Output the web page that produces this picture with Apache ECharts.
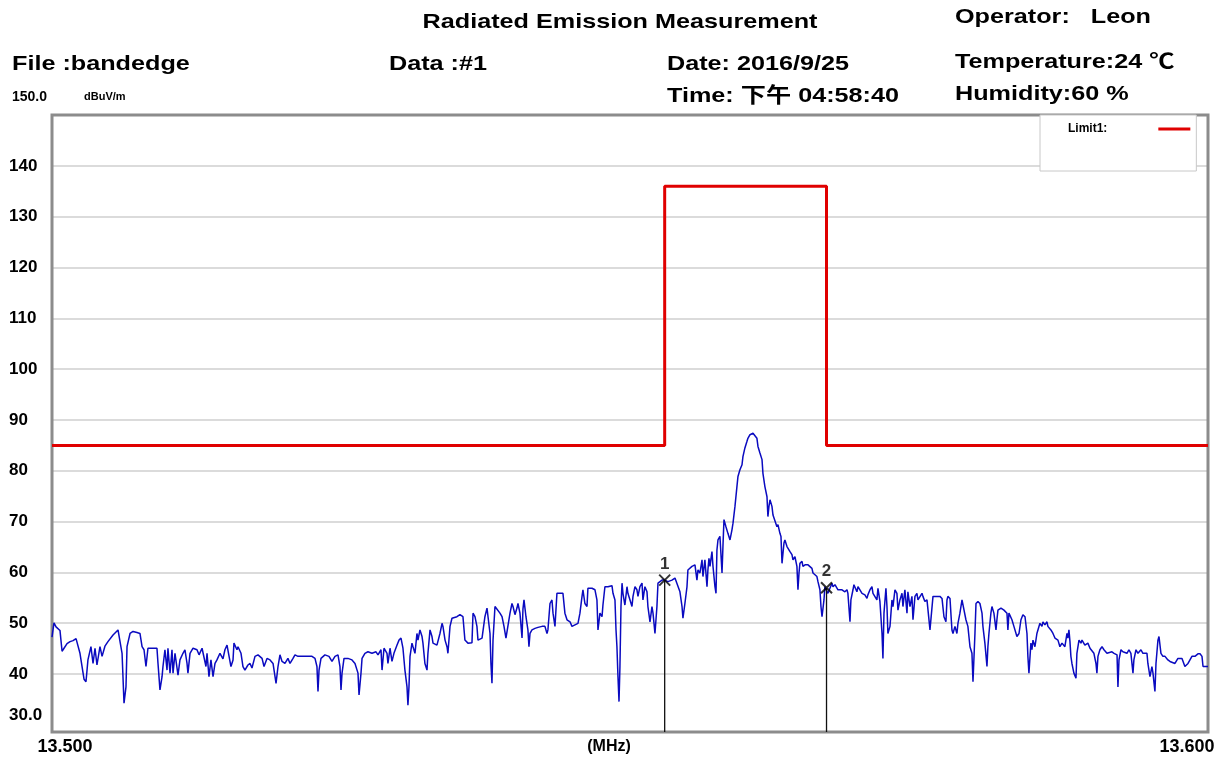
<!DOCTYPE html>
<html lang="en">
<head>
    <meta charset="UTF-8">
    <title>Radiated Emission Measurement</title>
    <script src="https://cdn.jsdelivr.net/npm/echarts@6/dist/echarts.min.js"></script>
    <style>
        html, body { margin: 0; padding: 0; background: #fff; }
        #chart { width: 1226px; height: 758px; }
    </style>
</head>
<body>
<div id="chart"></div>
<script>
// sweep 13.500 - 13.600 MHz
var startMHz = 13.5;
var stopMHz = 13.6;

// trace: [kHz above start, dBuV/m]
var trace = [
    [0.00, 47.3], [0.17, 50.1], [0.35, 49.3], [0.52, 49.0], [0.69, 48.6], [0.87, 44.5], [1.04, 45.1],
    [1.30, 46.0], [1.56, 46.4], [1.82, 46.6], [2.08, 47.0], [2.25, 46.8], [2.42, 44.1], [2.77, 39.0],
    [2.94, 38.5], [3.11, 42.8], [3.37, 45.4], [3.55, 42.1], [3.72, 45.1], [3.89, 41.8], [4.15, 45.4],
    [4.33, 43.5], [4.58, 45.5], [4.84, 46.4], [5.28, 47.7], [5.71, 48.7], [5.88, 49.0], [6.06, 44.1],
    [6.23, 34.3], [6.40, 37.5], [6.49, 45.4], [6.75, 48.0], [7.01, 48.4], [7.35, 48.2], [7.61, 48.0],
    [7.79, 45.4], [7.96, 44.8], [8.13, 41.5], [8.30, 45.1], [8.65, 45.1], [9.08, 45.1], [9.17, 42.1],
    [9.34, 36.9], [9.52, 39.5], [9.60, 41.5], [9.77, 44.8], [9.95, 40.8], [10.03, 45.1], [10.21, 40.2],
    [10.38, 44.8], [10.47, 40.2], [10.64, 44.1], [10.81, 44.1], [10.90, 39.8], [11.07, 42.8], [11.33, 44.1],
    [11.50, 44.8], [11.68, 42.1], [11.76, 40.2], [11.94, 44.1], [12.20, 45.1], [12.54, 44.8], [12.72, 43.8],
    [12.98, 45.1], [13.15, 45.1], [13.32, 41.5], [13.41, 44.1], [13.58, 39.5], [13.75, 42.8], [13.93, 39.5],
    [14.10, 42.1], [14.27, 42.8], [14.53, 44.1], [14.79, 43.0], [14.96, 44.8], [15.14, 45.7], [15.31, 45.4],
    [15.48, 41.5], [15.66, 42.8], [15.74, 46.1], [16.00, 44.8], [16.09, 45.4], [16.35, 44.1], [16.52, 41.5],
    [16.69, 40.8], [16.95, 41.8], [17.13, 42.1], [17.30, 41.2], [17.56, 43.5], [17.82, 43.8], [18.17, 43.1],
    [18.34, 41.5], [18.60, 43.1], [18.86, 42.8], [19.12, 42.1], [19.38, 38.2], [19.55, 41.5], [19.72, 43.8],
    [19.90, 42.5], [20.15, 42.1], [20.41, 43.1], [20.59, 42.1], [20.85, 43.1], [21.02, 43.8], [21.28, 43.5],
    [21.63, 43.5], [21.88, 43.5], [22.49, 43.5], [22.75, 43.1], [22.92, 41.5], [23.01, 36.6], [23.10, 40.8],
    [23.27, 43.1], [23.61, 43.8], [23.96, 43.5], [24.22, 42.5], [24.48, 43.5], [24.74, 43.8], [24.91, 41.5],
    [25.00, 36.9], [25.09, 40.2], [25.26, 43.1], [25.60, 43.1], [25.95, 42.8], [26.21, 42.1], [26.47, 40.2],
    [26.56, 35.9], [26.73, 40.2], [26.82, 43.1], [27.07, 44.1], [27.33, 44.4], [27.68, 44.1], [28.03, 44.4],
    [28.20, 43.8], [28.46, 44.8], [28.55, 40.8], [28.72, 45.1], [28.98, 44.1], [29.06, 42.1], [29.24, 45.1],
    [29.41, 42.5], [29.58, 44.1], [29.84, 45.7], [30.02, 46.7], [30.19, 47.1], [30.36, 45.1], [30.53, 40.8],
    [30.71, 37.5], [30.79, 33.9], [30.88, 37.5], [30.97, 43.5], [31.14, 46.1], [31.23, 45.4], [31.40, 44.1],
    [31.57, 48.0], [31.66, 46.7], [31.83, 48.7], [32.01, 47.4], [32.09, 46.1], [32.26, 42.1], [32.44, 40.8],
    [32.52, 44.1], [32.70, 48.7], [32.87, 47.4], [32.96, 46.1], [33.30, 45.7], [33.56, 48.0], [33.74, 50.0],
    [33.82, 49.4], [34.00, 46.7], [34.17, 45.4], [34.25, 44.1], [34.43, 49.4], [34.60, 51.0], [34.77, 50.7],
    [35.03, 51.3], [35.29, 51.7], [35.55, 51.3], [35.72, 46.7], [35.98, 46.1], [36.33, 46.2], [36.42, 52.0],
    [36.59, 51.3], [36.76, 49.4], [36.85, 46.7], [37.02, 46.9], [37.20, 47.1], [37.45, 51.3], [37.63, 53.0],
    [37.89, 48.0], [37.97, 42.1], [38.06, 38.2], [38.15, 46.7], [38.32, 53.3], [38.49, 53.6], [38.75, 52.0],
    [38.93, 51.3], [39.10, 49.4], [39.27, 47.1], [39.44, 47.1], [39.62, 52.0], [39.79, 53.9], [39.88, 53.3],
    [40.05, 51.7], [40.22, 53.0], [40.31, 53.9], [40.48, 52.0], [40.66, 47.1], [40.74, 52.8], [40.83, 54.6],
    [41.00, 51.3], [41.17, 48.7], [41.26, 45.4], [41.35, 48.0], [41.52, 48.7], [41.78, 49.0], [42.04, 49.2],
    [42.39, 49.4], [42.64, 49.4], [42.82, 48.0], [42.90, 48.7], [43.08, 53.9], [43.25, 54.6], [43.34, 52.0],
    [43.51, 49.4], [43.68, 55.9], [43.94, 55.9], [44.20, 55.9], [44.37, 52.0], [44.55, 50.7], [44.81, 50.3],
    [44.98, 49.4], [45.24, 49.7], [45.50, 50.0], [45.67, 52.0], [45.85, 55.3], [45.93, 56.6], [46.10, 53.9],
    [46.28, 53.3], [46.36, 56.9], [46.71, 56.9], [46.97, 56.6], [47.14, 54.6], [47.23, 48.7], [47.40, 52.0],
    [47.58, 51.3], [47.66, 53.6], [47.83, 57.2], [48.09, 57.2], [48.44, 57.4], [48.53, 55.9], [48.70, 54.6],
    [48.79, 48.7], [48.87, 45.4], [48.96, 39.5], [49.05, 34.6], [49.13, 41.5], [49.22, 53.3], [49.31, 57.9],
    [49.39, 55.9], [49.56, 53.6], [49.74, 57.2], [49.82, 55.9], [50.00, 54.6], [50.17, 53.3], [50.26, 55.3],
    [50.43, 57.2], [50.60, 56.6], [50.69, 55.3], [50.86, 57.2], [51.04, 57.9], [51.12, 54.6], [51.29, 57.2],
    [51.47, 56.2], [51.55, 53.3], [51.73, 50.3], [51.90, 53.3], [51.99, 52.0], [52.16, 48.0], [52.33, 53.3],
    [52.42, 57.9], [52.59, 58.2], [52.77, 58.5], [53.00, 58.5], [53.28, 58.2], [53.63, 58.5], [53.89, 58.9],
    [54.32, 56.2], [54.50, 53.3], [54.58, 51.0], [54.75, 53.9], [54.93, 57.2], [55.01, 60.5], [55.36, 61.2],
    [55.62, 61.5], [55.79, 58.5], [55.88, 60.5], [56.05, 59.9], [56.23, 62.5], [56.31, 59.2], [56.48, 62.5],
    [56.66, 57.2], [56.74, 60.5], [56.83, 62.8], [56.92, 61.2], [57.09, 64.1], [57.18, 61.2], [57.35, 57.2],
    [57.44, 55.9], [57.52, 64.4], [57.61, 66.4], [57.78, 67.1], [57.96, 59.9], [58.04, 65.1], [58.13, 70.4],
    [58.30, 69.0], [58.47, 67.7], [58.65, 66.4], [58.82, 68.4], [58.91, 69.7], [59.08, 73.0], [59.25, 76.9],
    [59.34, 78.9], [59.51, 80.2], [59.69, 81.2], [59.77, 82.8], [59.94, 84.5], [60.12, 85.8], [60.20, 86.4],
    [60.38, 87.1], [60.64, 87.4], [60.81, 87.1], [60.98, 86.4], [61.07, 84.8], [61.24, 83.5], [61.42, 82.2],
    [61.50, 79.5], [61.67, 76.9], [61.85, 74.9], [61.93, 71.0], [62.02, 73.0], [62.11, 74.3], [62.28, 73.0],
    [62.37, 71.3], [62.54, 71.3], [62.71, 69.0], [62.80, 69.4], [62.97, 67.7], [63.06, 67.1], [63.15, 61.8],
    [63.32, 65.8], [63.40, 66.4], [63.58, 65.1], [63.66, 65.1], [63.84, 64.1], [64.01, 63.5], [64.10, 62.5],
    [64.27, 63.1], [64.44, 61.2], [64.53, 56.6], [64.62, 59.9], [64.70, 61.8], [64.88, 62.2], [64.96, 61.2],
    [65.14, 61.5], [65.40, 61.5], [65.57, 61.2], [65.74, 60.8], [65.83, 59.9], [66.00, 60.2], [66.17, 59.2],
    [66.26, 58.2], [66.43, 56.6], [66.52, 53.3], [66.61, 51.3], [66.78, 54.6], [66.86, 57.2], [67.00, 57.0],
    [67.12, 55.9], [67.47, 57.9], [67.56, 57.2], [67.73, 57.6], [67.99, 56.6], [68.34, 56.6], [68.59, 56.2],
    [68.77, 56.6], [68.85, 55.9], [69.03, 50.3], [69.11, 54.6], [69.29, 56.6], [69.37, 57.6], [69.63, 56.2],
    [69.72, 57.2], [69.89, 56.9], [70.07, 55.9], [70.15, 56.2], [70.32, 55.6], [70.50, 54.9], [70.58, 55.6],
    [70.76, 56.6], [70.93, 57.2], [71.02, 55.9], [71.19, 56.2], [71.36, 54.6], [71.45, 56.9], [71.62, 54.3],
    [71.80, 48.0], [71.88, 43.1], [71.97, 52.0], [72.14, 56.9], [72.23, 53.3], [72.31, 48.0], [72.49, 49.4],
    [72.66, 54.6], [72.75, 53.3], [72.92, 56.6], [73.09, 55.9], [73.18, 52.6], [73.35, 54.6], [73.53, 55.9],
    [73.61, 53.3], [73.78, 56.6], [73.96, 52.0], [74.04, 56.2], [74.22, 53.3], [74.39, 55.3], [74.48, 50.7],
    [74.65, 55.3], [74.82, 55.9], [74.91, 54.6], [75.26, 55.9], [75.34, 55.3], [75.51, 54.3], [75.69, 54.6],
    [75.86, 54.6], [75.95, 48.7], [76.12, 48.7], [76.21, 55.3], [76.55, 55.3], [76.81, 55.3], [76.99, 54.9],
    [77.07, 54.6], [77.16, 51.3], [77.33, 50.3], [77.42, 54.6], [77.50, 55.3], [77.68, 54.9], [77.85, 48.7],
    [77.94, 48.0], [78.11, 49.4], [78.28, 48.0], [78.37, 50.0], [78.54, 52.0], [78.72, 54.6], [78.89, 54.6],
    [79.06, 50.7], [79.23, 49.4], [79.41, 45.4], [79.58, 44.1], [79.67, 38.5], [79.84, 48.0], [79.93, 53.9],
    [80.10, 54.3], [80.27, 53.9], [80.45, 52.0], [80.53, 49.4], [80.70, 46.1], [80.88, 41.5], [80.96, 45.4],
    [81.05, 48.0], [81.22, 52.0], [81.31, 53.3], [81.48, 52.0], [81.66, 48.7], [81.74, 50.7], [81.83, 52.6],
    [82.09, 53.0], [82.35, 52.6], [82.61, 52.0], [82.69, 48.7], [82.78, 52.0], [82.95, 52.0], [83.04, 50.7],
    [83.21, 49.4], [83.47, 47.4], [83.65, 48.0], [83.82, 50.7], [83.99, 51.7], [84.17, 51.3], [84.34, 48.0],
    [84.42, 43.5], [84.51, 40.2], [84.68, 46.1], [84.77, 44.8], [84.86, 46.7], [85.03, 45.4], [85.20, 48.0],
    [85.46, 50.0], [85.64, 49.4], [85.72, 50.3], [85.89, 49.7], [86.07, 50.3], [86.15, 49.4], [86.41, 48.7],
    [86.59, 48.0], [86.76, 47.1], [87.02, 46.7], [87.19, 45.4], [87.37, 46.1], [87.62, 45.4], [87.80, 48.0],
    [87.88, 47.1], [87.97, 48.7], [88.06, 46.4], [88.14, 43.5], [88.23, 42.1], [88.40, 40.2], [88.58, 39.2],
    [88.66, 44.1], [88.84, 46.7], [89.01, 46.1], [89.10, 46.7], [89.35, 45.7], [89.61, 46.1], [89.79, 45.1],
    [89.96, 45.1], [90.13, 44.1], [90.31, 42.1], [90.39, 40.2], [90.48, 43.5], [90.65, 44.8], [90.83, 45.4],
    [91.00, 44.8], [91.26, 44.1], [91.43, 44.1], [91.69, 44.4], [91.87, 44.1], [92.13, 43.8], [92.21, 37.5],
    [92.30, 42.8], [92.47, 44.8], [92.64, 44.4], [92.99, 44.1], [93.16, 44.8], [93.33, 44.1], [93.51, 40.2],
    [93.59, 42.8], [93.77, 44.8], [93.94, 44.1], [94.20, 44.8], [94.37, 44.1], [94.54, 43.8], [94.72, 44.1],
    [94.80, 42.1], [94.98, 39.5], [95.15, 41.5], [95.24, 40.2], [95.41, 36.6], [95.50, 42.1], [95.67, 46.7],
    [95.76, 47.4], [95.93, 44.1], [96.10, 43.5], [96.28, 43.5], [96.53, 42.8], [96.71, 42.5], [96.88, 42.8],
    [97.14, 42.1], [97.40, 43.1], [97.57, 43.1], [97.75, 43.1], [98.00, 41.5], [98.27, 42.1], [98.44, 42.8],
    [98.61, 43.5], [98.87, 43.5], [99.13, 44.0], [99.31, 44.0], [99.48, 43.5], [99.57, 41.5], [99.74, 41.2],
    [100.00, 41.5]
];

// Limit1 (band edge mask)
var limitFreq = [13.5, 13.553, 13.553, 13.567, 13.567, 13.6];
var limitLevel = [85, 85, 136, 136, 85, 85];

// markers
var markerName = ['1', '2'];
var markerFreq = [13.553, 13.567];
var markerLevel = [58.5, 57.0];

// y axis
var yTop = 150;
var yBottom = 28.62;   // plot frame sits a little under 30.0
var yTicksFrom = 40;
var yStep = 10;

var FONT = "'Liberation Sans', Arial, 'Noto Sans CJK SC', sans-serif";

var myChart = echarts.init(document.getElementById('chart'), null, { renderer: 'canvas' });

var traceData = trace.map(function (p) {
    return [startMHz + p[0] / 1000, p[1]];
});
var limitData = limitFreq.map(function (f, i) { return [f, limitLevel[i]]; });

function txt(str, x, y, size, opt) {
    opt = opt || {};
    return {
        type: 'text',
        x: x,
        y: y,
        scaleX: opt.scale || 1,
        z: 10,
        style: {
            text: str,
            fontSize: size,
            fontFamily: FONT,
            fontWeight: opt.bold ? 'bold' : 'normal',
            fill: '#000',
            align: opt.align || 'left',
            verticalAlign: 'middle'
        }
    };
}

var series = [
    {
        name: 'trace',
        type: 'line',
        xAxisIndex: 0,
        yAxisIndex: 0,
        showSymbol: false,
        lineStyle: { color: '#0a0ac0', width: 1.5 },
        data: traceData,
        z: 3
    },
    {
        name: 'Limit1:',
        type: 'line',
        xAxisIndex: 0,
        yAxisIndex: 0,
        showSymbol: false,
        itemStyle: { color: '#e00000' },
        lineStyle: { color: '#e00000', width: 3 },
        data: limitData,
        z: 4
    }
];

markerFreq.forEach(function (f, i) {
    // drop line from marker to the frame
    series.push({
        name: 'mk' + markerName[i],
        type: 'line',
        xAxisIndex: 0,
        yAxisIndex: 0,
        showSymbol: false,
        lineStyle: { color: '#111', width: 1.3 },
        data: [[f, yBottom], [f, markerLevel[i]]],
        z: 5
    });
});

series.push({
    name: 'markers',
    type: 'scatter',
    xAxisIndex: 0,
    yAxisIndex: 0,
    symbol: 'path://M0,0L10,10M10,0L0,10',
    symbolSize: 11,
    itemStyle: { color: 'rgba(0,0,0,0)', borderColor: '#000', borderWidth: 2 },
    label: {
        show: true,
        position: 'top',
        distance: 1,
        formatter: '{b}',
        color: '#000',
        fontSize: 17,
        fontWeight: 'bold',
        fontFamily: FONT
    },
    data: markerFreq.map(function (f, i) {
        return { name: markerName[i], value: [f, markerLevel[i]] };
    }),
    z: 6
});

var option = {
    backgroundColor: '#fff',
    animation: false,
    legend: {
        data: ['Limit1:'],
        left: 1040,
        top: 115,
        align: 'right',
        icon: 'rect',
        itemWidth: 32,
        itemHeight: 3,
        padding: [8, 6, 36, 28],
        borderColor: '#c8c8c8',
        borderWidth: 1,
        backgroundColor: '#fff',
        selectedMode: false,
        textStyle: {
            fontFamily: FONT,
            fontSize: 12,
            fontWeight: 'bold',
            color: '#000',
            padding: [0, 46, 0, 0]
        }
    },
    grid: [
        // plot frame and data
        { left: 52, right: 18, top: 115, bottom: 26, show: true, borderColor: '#8c8c8c', borderWidth: 3, backgroundColor: 'rgba(0,0,0,0)', z: 2 },
        // horizontal division lines and their labels
        { left: 52, right: 18, top: 115, bottom: 84, show: false, z: 1 }
    ],
    xAxis: [
        {
            gridIndex: 0, type: 'value', min: startMHz, max: stopMHz,
            axisLine: { show: false }, axisTick: { show: false },
            axisLabel: { show: false }, splitLine: { show: false }
        },
        {
            gridIndex: 1, type: 'value', min: startMHz, max: stopMHz,
            axisLine: { show: false }, axisTick: { show: false },
            axisLabel: { show: false }, splitLine: { show: false }
        }
    ],
    yAxis: [
        {
            gridIndex: 0, type: 'value', min: yBottom, max: yTop,
            axisLine: { show: false }, axisTick: { show: false },
            axisLabel: { show: false }, splitLine: { show: false }
        },
        {
            gridIndex: 1, type: 'value', min: yTicksFrom, max: yTop, interval: yStep,
            axisLine: { show: false }, axisTick: { show: false },
            splitLine: { show: true, lineStyle: { color: '#cfcfcf', width: 1.5 } },
            axisLabel: {
                align: 'left',
                margin: 43,
                fontFamily: FONT,
                fontSize: 17,
                fontWeight: 'bold',
                color: '#000',
                formatter: function (v) { return v === yTop ? '' : String(v); }
            }
        }
    ],
    graphic: [
        txt('Radiated Emission Measurement', 620, 22, 21, { scale: 1.2, bold: true, align: 'center' }),
        txt('Operator:   Leon', 955, 17, 21, { scale: 1.2, bold: true }),
        txt('File :bandedge', 12, 64, 21, { scale: 1.2, bold: true }),
        txt('Data :#1', 389, 64, 21, { scale: 1.2, bold: true }),
        txt('Date: 2016/9/25', 667, 64, 21, { scale: 1.2, bold: true }),
        txt('Temperature:24 ℃', 955, 62, 21, { scale: 1.2, bold: true }),
        txt('Time: 下午 04:58:40', 667, 96, 21, { scale: 1.2, bold: true }),
        txt('Humidity:60 %', 955, 94, 21, { scale: 1.2, bold: true }),
        txt('150.0', 12, 97, 14, { bold: true }),
        txt('dBuV/m', 84, 97, 11, { bold: true }),
        txt('30.0', 9, 715, 17, { bold: true }),
        txt('13.500', 65, 747, 18, { bold: true, align: 'center' }),
        txt('13.600', 1187, 747, 18, { bold: true, align: 'center' }),
        txt('(MHz)', 609, 747, 16, { bold: true, align: 'center' })
    ],
    series: series
};

myChart.setOption(option);
window.addEventListener('resize', function () {
    myChart.resize();
});
</script>
</body>
</html>
